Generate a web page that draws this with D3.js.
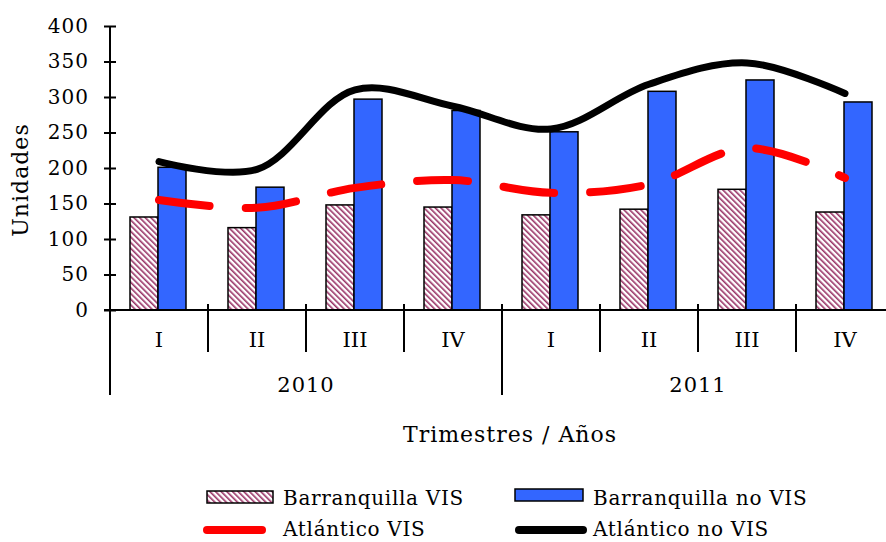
<!DOCTYPE html>
<html>
<head>
<meta charset="utf-8">
<script src="https://cdn.jsdelivr.net/npm/d3@7"></script>
<style>
  body { margin: 0; background: #fff; }
  svg text { font-family: "DejaVu Serif", serif; fill: #000; }
</style>
</head>
<body>
<div id="chart"></div>
<script>
const quarters = ['I', 'II', 'III', 'IV', 'I', 'II', 'III', 'IV'];
const years = ['2010', '2011'];
const barranquillaVIS = [131, 116, 148, 145, 134, 142, 170, 138];
const barranquillaNoVIS = [201, 173, 297, 281, 251, 308, 324, 293];
const atlanticoVIS = [155, 144, 172, 183, 165, 177, 228, 186];
const atlanticoNoVIS = [209, 198, 310, 287, 255, 318, 348, 305];
const yTicks = [0, 50, 100, 150, 200, 250, 300, 350, 400];

const width = 886;
const height = 542;
const margin = { top: 26, left: 110, bottom: 232, right: -8 };

const svg = d3.select('#chart')
  .append('svg')
  .attr('width', width)
  .attr('height', height);

const defs = svg.append('defs');
const hatch = defs.append('pattern')
  .attr('id', 'hatch')
  .attr('patternUnits', 'userSpaceOnUse')
  .attr('width', 4)
  .attr('height', 4)
  .attr('patternTransform', 'rotate(-45)');
hatch.append('rect').attr('width', 4).attr('height', 4).attr('fill', '#fff');
hatch.append('rect').attr('width', 1.6).attr('height', 4).attr('fill', '#993366');

const idx = d3.range(quarters.length);

const x = d3.scaleBand()
  .domain(idx)
  .range([margin.left, width - margin.right])
  .padding(0);

const xs = d3.scaleBand()
  .domain(['vis', 'novis'])
  .range([0, x.bandwidth()])
  .paddingInner(0)
  .paddingOuter(0.75);

const y = d3.scaleLinear()
  .domain([0, 400])
  .range([height - margin.bottom, margin.top]);

const y0 = y(0);

// bars
svg.selectAll('rect.vis')
  .data(barranquillaVIS)
  .join('rect')
  .attr('class', 'vis')
  .attr('x', (d, i) => x(i) + xs('vis') - 1)
  .attr('y', d => y(d))
  .attr('width', xs.bandwidth())
  .attr('height', d => y0 - y(d))
  .attr('fill', 'url(#hatch)')
  .attr('stroke', '#000')
  .attr('stroke-width', 1.5);

svg.selectAll('rect.novis')
  .data(barranquillaNoVIS)
  .join('rect')
  .attr('class', 'novis')
  .attr('x', (d, i) => x(i) + xs('novis') - 1)
  .attr('y', d => y(d))
  .attr('width', xs.bandwidth())
  .attr('height', d => y0 - y(d))
  .attr('fill', '#3366ff')
  .attr('stroke', '#000')
  .attr('stroke-width', 1.5);

// y axis
const yAxis = svg.append('g')
  .attr('transform', `translate(${margin.left},0)`)
  .call(d3.axisLeft(y).tickValues(yTicks).tickSize(6).tickPadding(16));
yAxis.select('.domain').attr('d', `M0,${y(400)}V${y0}`).attr('stroke-width', 2);
yAxis.selectAll('.tick line').attr('x1', -6).attr('x2', 6).attr('stroke-width', 2);
yAxis.selectAll('.tick text')
  .attr('x', -21)
  .style('font-size', '20px')
  .style('letter-spacing', '1px')
  .style('font-family', '"DejaVu Serif", serif')
  .attr('fill', '#000');

// x axis (quarters)
const xAxis = svg.append('g')
  .attr('transform', `translate(0,${y0})`)
  .call(d3.axisBottom(x).tickSize(0).tickPadding(22).tickFormat(i => quarters[i]));
xAxis.select('.domain').attr('d', `M${margin.left - 6},0H${width - margin.right}`).attr('stroke-width', 2);
xAxis.selectAll('.tick text')
  .style('font-size', '21px')
  .style('font-family', '"DejaVu Serif", serif')
  .attr('fill', '#000');

// separators
const bounds = idx.map(i => x(i)).concat([x.range()[1]]);
svg.append('g')
  .selectAll('line')
  .data(bounds)
  .join('line')
  .attr('x1', d => d)
  .attr('x2', d => d)
  .attr('y1', y0 - 6)
  .attr('y2', (d, i) => (i % 4 === 0 ? y0 + 85 : y0 + 42))
  .attr('stroke', '#000')
  .attr('stroke-width', 2);

svg.append('g')
  .selectAll('text')
  .data(years)
  .join('text')
  .attr('x', (d, i) => (x(i * 4) + x(i * 4 + 3) + x.bandwidth()) / 2)
  .attr('y', y0 + 82)
  .attr('text-anchor', 'middle')
  .style('font-size', '21px')
  .style('letter-spacing', '1px')
  .text(d => d);

// lines
const line = d3.line()
  .x((d, i) => x(i) + x.bandwidth() / 2)
  .y(d => y(d))
  .curve(d3.curveCatmullRom.alpha(0.5));

svg.append('path')
  .datum(atlanticoVIS)
  .attr('d', line)
  .attr('fill', 'none')
  .attr('stroke', '#ff0000')
  .attr('stroke-width', 8)
  .attr('stroke-linecap', 'round')
  .attr('stroke-dasharray', '51,36');

svg.append('path')
  .datum(atlanticoNoVIS)
  .attr('d', line)
  .attr('fill', 'none')
  .attr('stroke', '#000')
  .attr('stroke-width', 7)
  .attr('stroke-linecap', 'round');

// axis titles
svg.append('text')
  .attr('transform', 'translate(28,180) rotate(-90)')
  .attr('text-anchor', 'middle')
  .style('font-size', '22px')
  .style('letter-spacing', '1px')
  .text('Unidades');

svg.append('text')
  .attr('x', 510)
  .attr('y', 442)
  .attr('text-anchor', 'middle')
  .style('font-size', '22px')
  .style('letter-spacing', '1px')
  .text('Trimestres / Años');

// legend
const legend = svg.append('g');
legend.append('rect')
  .attr('x', 207).attr('y', 491).attr('width', 66).attr('height', 12)
  .attr('fill', 'url(#hatch)').attr('stroke', '#000').attr('stroke-width', 1.5);
legend.append('rect')
  .attr('x', 515).attr('y', 489).attr('width', 68).attr('height', 12)
  .attr('fill', '#3366ff').attr('stroke', '#000').attr('stroke-width', 1.5);
legend.append('line')
  .attr('x1', 207).attr('x2', 262).attr('y1', 530).attr('y2', 530)
  .attr('stroke', '#ff0000').attr('stroke-width', 8).attr('stroke-linecap', 'round');
legend.append('line')
  .attr('x1', 519).attr('x2', 583).attr('y1', 530).attr('y2', 530)
  .attr('stroke', '#000').attr('stroke-width', 8).attr('stroke-linecap', 'round');

const legendText = [
  { label: 'Barranquilla VIS', x: 283, y: 505 },
  { label: 'Barranquilla no VIS', x: 593, y: 505 },
  { label: 'Atlántico VIS', x: 283, y: 536 },
  { label: 'Atlántico no VIS', x: 593, y: 536 }
];
legend.selectAll('text')
  .data(legendText)
  .join('text')
  .attr('x', d => d.x)
  .attr('y', d => d.y)
  .style('font-size', '20px')
  .style('letter-spacing', '0.7px')
  .text(d => d.label);
</script>
</body>
</html>
